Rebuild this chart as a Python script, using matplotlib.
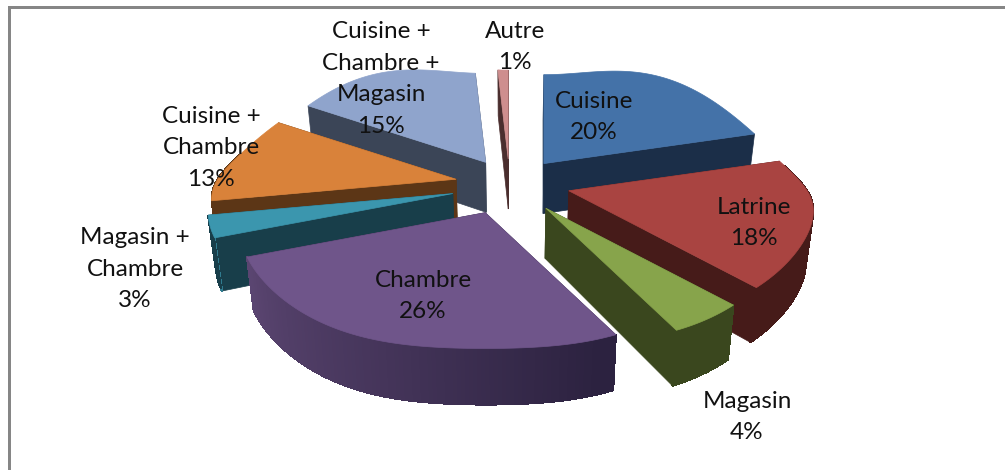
import matplotlib
matplotlib.use('Agg')
import matplotlib.pyplot as plt
import numpy as np
from matplotlib.patches import Polygon, Rectangle
from matplotlib.colors import to_rgb

plt.rcParams['font.family'] = ['Lato', 'DejaVu Sans']

# data, clockwise from 12 o'clock
categories = ['Cuisine', 'Latrine', 'Magasin', 'Chambre', 'Magasin +\nChambre',
              'Cuisine +\nChambre', 'Cuisine +\nChambre +\nMagasin', 'Autre']
shares = [20, 18, 4, 26, 3, 13, 15, 1]

top_colors = ['#4472A8', '#A94441', '#87A44B', '#6F558A', '#3B96AE', '#D9823A', '#8FA4CC', '#CE8E8E']
wall_colors = ['#1B2E48', '#461B19', '#3A471E', '#2C2240', '#183E4A', '#5C3616', '#3B4557', '#4A2E2E']
label_pos = [(594, 117), (754, 223), (747, 417), (423, 296), (135, 269),
             (211, 148), (381, 79), (515, 47)]
# small sideways correction of each slice
nudge_x = [-1, 2, 1, -8, -4, 2, 4, -1]

cx, cy = 511, 183
explode = 0.24

# how the tilted disc is foreshortened
depth_y = [-1, -0.876, -0.73, -0.43, -0.25, 0, 0.31, 0.54, 1]
width_px = [262, 268, 278, 268, 242, 240, 228, 205, 165]
drop_px = [135, 124, 96, 44, 22, 0, -32, -56, -89]
width_fit = np.polyfit(depth_y, width_px, 4)
drop_fit = np.polyfit(depth_y, drop_px, 5)


def project(ux, uy):
    return ux * np.polyval(width_fit, uy), np.polyval(drop_fit, uy)


def lower(x, y, uy):
    # bottom face sits lower and slightly narrower
    return cx + (x - cx) * 0.975, y + 51 - 5 * uy


def mix(a, b, t):
    a, b = np.array(to_rgb(a)), np.array(to_rgb(b))
    return tuple(a + (b - a) * t)


fig = plt.figure(figsize=(10.05, 4.70), dpi=100)
ax = fig.add_axes([0, 0, 1, 1])
ax.set_xlim(0, 1005)
ax.set_ylim(470, 0)
ax.axis('off')

ax.add_patch(Rectangle((8, 6), 3, 464, color='#868686', lw=0))
ax.add_patch(Rectangle((8, 6), 997, 3, color='#868686', lw=0))

edges = np.cumsum([0] + shares) * 3.6
mids = (edges[:-1] + edges[1:]) / 2
order = sorted(range(len(shares)), key=lambda i: -np.cos(np.radians(mids[i])))

for i in order:
    mid = np.radians(mids[i])
    ex = explode * np.sin(mid) * 240 + nudge_x[i]
    ey = -explode * np.cos(mid) * (130 if np.cos(mid) < 0 else 100)
    ax_x, ax_y = cx + ex, cy + ey

    th = np.radians(np.linspace(edges[i], edges[i + 1], max(int(shares[i] * 4), 4)))
    rim = [project(np.sin(t), np.cos(t)) for t in th]
    rim_x = np.array([ax_x + p[0] for p in rim])
    rim_y = np.array([ax_y + p[1] for p in rim])
    uy = np.cos(th)

    # side walls, further one first
    apex_low = lower(ax_x, ax_y, 0.2)
    sides = [0, -1]
    sides.sort(key=lambda k: rim_y[k])
    for k in sides:
        low = lower(rim_x[k], rim_y[k], uy[k])
        ax.add_patch(Polygon([(ax_x, ax_y), (rim_x[k], rim_y[k]), low, apex_low],
                             closed=True, fc=wall_colors[i], ec=wall_colors[i], lw=0.5))

    # outer wall, lighter towards the left side of the front
    for k in range(len(th) - 1):
        if np.cos(th[k]) > 0.25 and np.cos(th[k + 1]) > 0.25:
            continue
        a = lower(rim_x[k], rim_y[k], uy[k])
        b = lower(rim_x[k + 1], rim_y[k + 1], uy[k + 1])
        deg = np.degrees(th[k])
        t = np.clip((deg - 155) / 90, 0, 1) if deg < 245 else 0
        c = mix(wall_colors[i], mix(top_colors[i], '#000000', 0.18), t)
        ax.add_patch(Polygon([(rim_x[k], rim_y[k]), (rim_x[k + 1], rim_y[k + 1]), b, a],
                             closed=True, fc=c, ec=c, lw=0.8, antialiased=False))

    ax.add_patch(Polygon([(ax_x, ax_y)] + list(zip(rim_x, rim_y)), closed=True,
                         fc=top_colors[i], ec=top_colors[i], lw=0.5))

for name, share, pos in zip(categories, shares, label_pos):
    ax.text(pos[0], pos[1], f'{name}\n{share}%', ha='center', va='center',
            fontsize=17.5, color='#111111', linespacing=1.61)

fig.savefig('out.png', dpi=100)
